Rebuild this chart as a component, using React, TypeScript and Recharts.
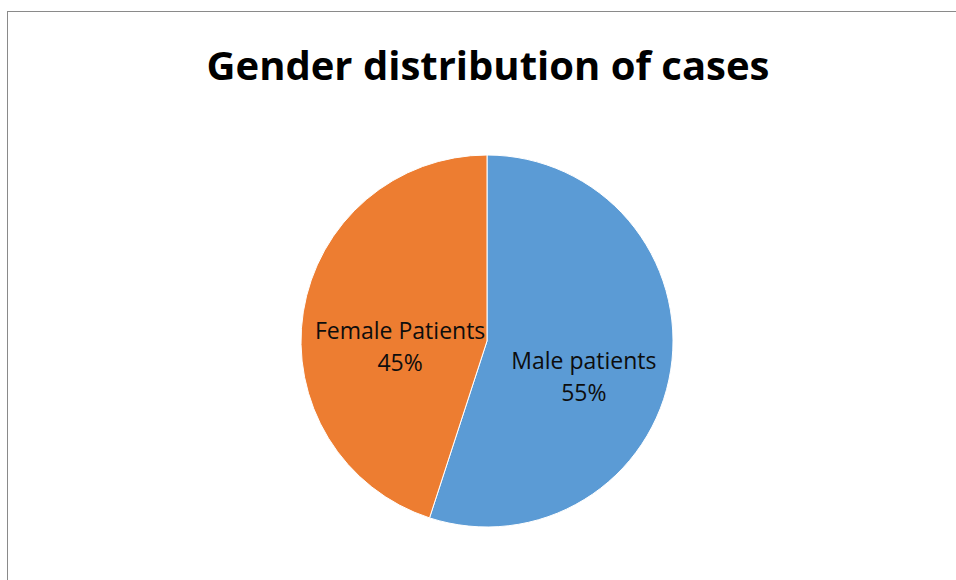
import React from "react"
import { PieChart, Pie, Cell } from "recharts"

const categories = ["Male patients", "Female Patients"]
const shares = [55, 45]
const colors = ["#5B9BD5", "#ED7D31"]

const data = categories.map((name, i) => ({ name, value: shares[i] }))

const RAD = Math.PI / 180
const FONT = "'Open Sans', 'Noto Sans', sans-serif"

const renderLabel = ({ cx, cy, midAngle, outerRadius, name, value }: any) => {
  const r = outerRadius * 0.5
  const x = cx + r * Math.cos(-midAngle * RAD) + 5
  const y = cy + r * Math.sin(-midAngle * RAD) + 21
  return (
    <text x={x} y={y} textAnchor="middle" fill="#0d0d0d" fontSize={23} fontFamily={FONT}>
      <tspan x={x} dy={-8}>{name}</tspan>
      <tspan x={x} dy={32}>{value}%</tspan>
    </text>
  )
}

export default function App() {
  return (
    <div style={{ position: "absolute", left: 0, top: 0, width: 956, height: 580, overflow: "hidden", background: "#fff" }}>
      <div style={{
        position: "absolute", left: 7, top: 11, width: 1000, height: 700,
        borderLeft: "1px solid #8a8a8a", borderTop: "1px solid #8a8a8a",
      }}/>
      <div style={{
        position: "absolute", left: 0, top: 38, width: 976, textAlign: "center",
        fontFamily: FONT, fontWeight: 700, fontSize: 40, color: "#000", lineHeight: "54px",
      }}>
        Gender distribution of cases
      </div>
      <div style={{ position: "absolute", left: 0, top: 0 }}>
        <PieChart width={956} height={580} margin={{ top: 0, right: 0, bottom: 0, left: 0 }}>
          <Pie
            data={data} dataKey="value" nameKey="name"
            cx={487} cy={341} outerRadius={186}
            startAngle={90} endAngle={-270}
            stroke="#fff" strokeWidth={1}
            label={renderLabel} labelLine={false}
            isAnimationActive={false}
          >
            {data.map((d, i) => <Cell key={d.name} fill={colors[i]}/>)}
          </Pie>
        </PieChart>
      </div>
    </div>
  )
}
